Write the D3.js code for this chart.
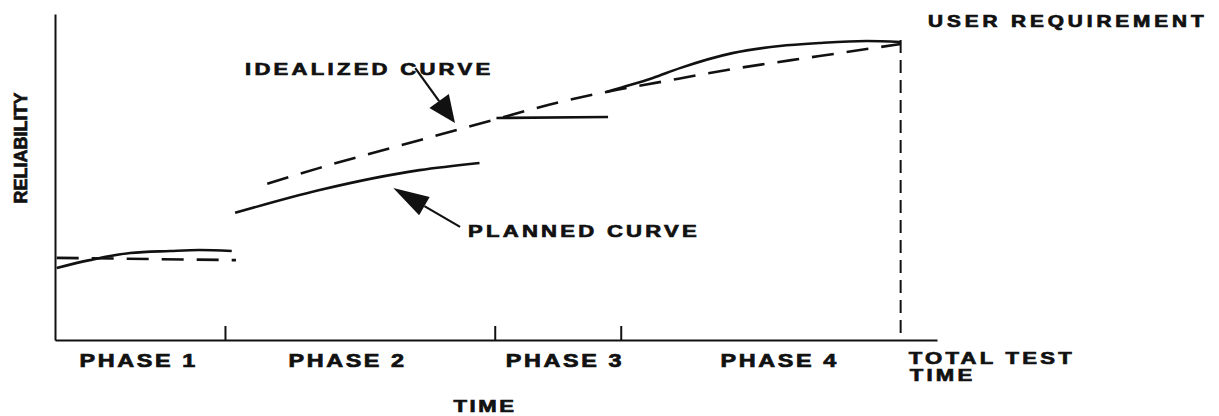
<!DOCTYPE html>
<html>
<head>
<meta charset="utf-8">
<script src="https://cdn.jsdelivr.net/npm/d3@7"></script>
<style>
    body { margin: 0; background: #fff; }
    svg { display: block; }
    .lbl { font-family: "Liberation Sans", Arial, sans-serif; font-weight: bold; fill: #111; stroke: #111; stroke-width: 0.7px; }
</style>
</head>
<body>
<svg id="chart" width="1219" height="416"></svg>
<script>
// time in arbitrary units (0 = start of test, 100 = total test time), reliability 0..100
const phaseNames = ["PHASE 1", "PHASE 2", "PHASE 3", "PHASE 4"];
const phaseEnds = [20.1, 52.0, 66.9];
const phaseLabelTime = [9.9, 34.6, 60.3, 85.7];
const totalTime = 100;
const userRequirement = 92.0;

// planned curve, one piece per phase
const plannedPhase1 = [[0.2, 22.1], [4.1, 24.5], [8.9, 26.7], [13.6, 27.3], [17.1, 27.6], [20.9, 27.3]];
const plannedPhase2 = [[21.3, 39.0], [31.3, 46.0], [43.1, 52.1], [50.2, 54.3]];
const plannedPhase3 = [[52.2, 68.1], [65.4, 68.4]];
const plannedPhase4 = [[65.2, 76.1], [68.0, 78.2], [70.7, 80.4], [73.9, 83.4], [80.1, 88.0], [85.7, 90.2], [90.4, 91.1], [96.0, 91.7], [100, 91.4]];

// idealized curve
const idealPhase1 = [[0.2, 25.2], [21.4, 24.5]];
const idealGrowth = [[25.1, 47.9], [31.3, 52.8], [43.1, 61.3], [51.8, 67.5], [59.7, 73.0], [65.2, 76.1], [71.5, 79.1], [80.1, 83.1], [90.4, 87.1], [100, 90.8]];

// arrows [tail, tip]
const idealArrow = [[42.6, 83.4], [47.3, 66.6]];
const plannedArrow = [[47.9, 34.7], [40.0, 46.6]];

const svg = d3.select("#chart");

const x = d3.scaleLinear().domain([0, 104.3]).range([55, 937]);
const y = d3.scaleLinear().domain([0, 100]).range([340, 14]);

const line = d3.line()
    .x(d => x(d[0]))
    .y(d => y(d[1]))
    .curve(d3.curveMonotoneX);

// axes
svg.append("g")
    .attr("transform", "translate(0," + y(0) + ")")
    .call(d3.axisBottom(x).tickValues(phaseEnds).tickSizeInner(-14).tickSizeOuter(0).tickFormat(""))
    .call(g => g.selectAll("path, line").attr("stroke", "#111").attr("stroke-width", 2));

svg.append("g")
    .attr("transform", "translate(" + x(0) + ",0)")
    .call(d3.axisLeft(y).tickValues([]).tickSizeOuter(0))
    .call(g => g.selectAll("path").attr("stroke", "#111").attr("stroke-width", 2));

// total test time / user requirement marker
svg.append("line")
    .attr("x1", x(totalTime)).attr("x2", x(totalTime))
    .attr("y1", y(userRequirement)).attr("y2", y(0))
    .attr("stroke", "#111")
    .attr("stroke-width", 2)
    .attr("stroke-dasharray", "13,7");

// curves
[plannedPhase1, plannedPhase2, plannedPhase3, plannedPhase4].forEach(pts => {
    svg.append("path")
        .attr("d", line(pts))
        .attr("fill", "none")
        .attr("stroke", "#111")
        .attr("stroke-width", 2.6);
});

[idealPhase1, idealGrowth].forEach(pts => {
    svg.append("path")
        .attr("d", line(pts))
        .attr("fill", "none")
        .attr("stroke", "#111")
        .attr("stroke-width", 2.6)
        .attr("stroke-dasharray", "22,13");
});

// arrows
function addArrow(pts, headLen, headHalf) {
    const x0 = x(pts[0][0]), y0 = y(pts[0][1]);
    const x1 = x(pts[1][0]), y1 = y(pts[1][1]);
    const len = Math.hypot(x1 - x0, y1 - y0);
    const ux = (x1 - x0) / len, uy = (y1 - y0) / len;
    const bx = x1 - ux * headLen, by = y1 - uy * headLen;

    svg.append("line")
        .attr("x1", x0).attr("y1", y0)
        .attr("x2", bx).attr("y2", by)
        .attr("stroke", "#111")
        .attr("stroke-width", 2.2);

    svg.append("path")
        .attr("d", "M" + x1 + "," + y1 +
            "L" + (bx - uy * headHalf) + "," + (by + ux * headHalf) +
            "L" + (bx + uy * headHalf) + "," + (by - ux * headHalf) + "Z")
        .attr("fill", "#111");
}
addArrow(idealArrow, 27, 12);
addArrow(plannedArrow, 36, 10.5);

// text labels (wide bold lettering)
function addLabel(txt, px, py, anchor, size, spacing) {
    return svg.append("text")
        .attr("class", "lbl")
        .attr("transform", "translate(" + px + "," + py + ") scale(1.3,1)")
        .attr("text-anchor", anchor)
        .style("font-size", size + "px")
        .style("letter-spacing", spacing + "px")
        .text(txt);
}

phaseNames.forEach((p, i) => addLabel(p, x(phaseLabelTime[i]), 367, "middle", 18, 2));

addLabel("TOTAL TEST", x(totalTime) + 8, 364, "start", 17, 2.5);
addLabel("TIME", x(totalTime) + 9, 381, "start", 17, 2.5);
addLabel("TIME", 485, 412, "middle", 17, 2);
addLabel("IDEALIZED CURVE", 245, 75, "start", 17, 2.5);
addLabel("PLANNED CURVE", 468, 237, "start", 17, 2.5);
addLabel("USER REQUIREMENT", 928, 27, "start", 16, 3);

svg.append("text")
    .attr("class", "lbl")
    .attr("transform", "translate(27,148) rotate(-90)")
    .attr("text-anchor", "middle")
    .style("font-size", "18px")
    .text("RELIABILITY");
</script>
</body>
</html>
